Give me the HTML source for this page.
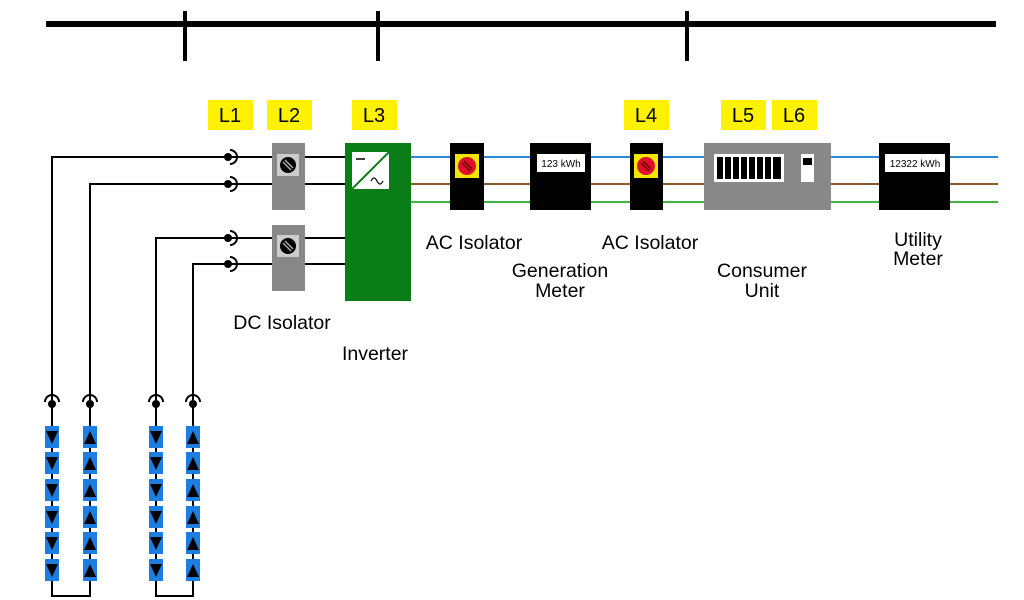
<!DOCTYPE html>
<html><head><meta charset="utf-8"><style>
html,body{margin:0;padding:0;background:#fff;width:1024px;height:600px;overflow:hidden}
text{font-family:"Liberation Sans",Arial,sans-serif}
</style></head><body>
<svg width="1024" height="600" viewBox="0 0 1024 600" xmlns="http://www.w3.org/2000/svg">
<defs>
<g id="sock"><path d="M2,-7 A7,7 0 0 1 2,7" fill="none" stroke="#000" stroke-width="2"/><circle r="4" fill="#000"/></g>
<g id="pd"><rect x="-7" y="-11" width="14" height="22" fill="#1e7de0"/><path d="M-6,-6 L6,-6 L0,7 Z" fill="#000"/></g>
<g id="pu"><rect x="-7" y="-11" width="14" height="22" fill="#1e7de0"/><path d="M-6,7 L6,7 L0,-6 Z" fill="#000"/></g>
<g id="dcsw"><rect x="-11" y="-11" width="22" height="22" fill="#ccc"/><circle r="8" fill="#000"/><path d="M-5,-3 L3,5 M-3,-5 L5,3" stroke="#aaa" stroke-width="1.5"/></g>
<g id="acsw"><rect x="-12" y="-12" width="24" height="24" fill="#f5e600"/><circle r="9" fill="#e0102a"/><path d="M-5,-3 L3,5 M-3,-5 L5,3" stroke="#600" stroke-width="1.5"/></g>
</defs>
<rect x="46" y="21" width="950" height="6" fill="#000"/>
<rect x="183" y="11" width="4" height="50" fill="#000"/>
<rect x="376" y="11" width="4" height="50" fill="#000"/>
<rect x="685" y="11" width="4" height="50" fill="#000"/>
<g fill="#fff200"><rect x="208" y="100" width="45" height="30"/><rect x="267" y="100" width="45" height="30"/><rect x="352" y="100" width="45" height="30"/><rect x="624" y="100" width="45" height="30"/><rect x="721" y="100" width="45" height="30"/><rect x="772" y="100" width="45" height="30"/></g>
<g font-size="20" text-anchor="middle" fill="#000"><text x="230" y="122">L1</text><text x="289" y="122">L2</text><text x="374" y="122">L3</text><text x="646" y="122">L4</text><text x="743" y="122">L5</text><text x="794" y="122">L6</text></g>
<line x1="411" y1="157" x2="998" y2="157" stroke="#2a8ad8" stroke-width="2"/>
<line x1="411" y1="184" x2="998" y2="184" stroke="#8a5a2a" stroke-width="2"/>
<line x1="411" y1="202" x2="998" y2="202" stroke="#3cb840" stroke-width="2"/>
<g fill="none" stroke="#000" stroke-width="2">
<path d="M52,400 V157 H345"/><path d="M90,400 V184 H345"/>
<path d="M156,400 V238 H345"/><path d="M193,400 V264 H345"/>
<path d="M52,405 V596 H90 V405"/><path d="M156,405 V596 H193 V405"/>
</g>
<use href="#sock" x="228" y="157"/><use href="#sock" x="228" y="184"/>
<use href="#sock" x="228" y="238"/><use href="#sock" x="228" y="264"/>
<g transform="translate(52,404) rotate(-90)"><use href="#sock"/></g>
<g transform="translate(90,404) rotate(-90)"><use href="#sock"/></g>
<g transform="translate(156,404) rotate(-90)"><use href="#sock"/></g>
<g transform="translate(193,404) rotate(-90)"><use href="#sock"/></g>
<g>
<use href="#pd" x="52" y="437"/><use href="#pd" x="52" y="463"/><use href="#pd" x="52" y="490"/><use href="#pd" x="52" y="517"/><use href="#pd" x="52" y="543"/><use href="#pd" x="52" y="570"/>
<use href="#pu" x="90" y="437"/><use href="#pu" x="90" y="463"/><use href="#pu" x="90" y="490"/><use href="#pu" x="90" y="517"/><use href="#pu" x="90" y="543"/><use href="#pu" x="90" y="570"/>
<use href="#pd" x="156" y="437"/><use href="#pd" x="156" y="463"/><use href="#pd" x="156" y="490"/><use href="#pd" x="156" y="517"/><use href="#pd" x="156" y="543"/><use href="#pd" x="156" y="570"/>
<use href="#pu" x="193" y="437"/><use href="#pu" x="193" y="463"/><use href="#pu" x="193" y="490"/><use href="#pu" x="193" y="517"/><use href="#pu" x="193" y="543"/><use href="#pu" x="193" y="570"/>
</g>
<rect x="272" y="143" width="33" height="67" fill="#888"/><use href="#dcsw" x="288" y="165"/>
<rect x="272" y="225" width="33" height="66" fill="#888"/><use href="#dcsw" x="288" y="246"/>
<rect x="345" y="143" width="66" height="158" fill="#0a7d18"/>
<rect x="352" y="152" width="37" height="37" fill="#fff"/>
<line x1="352" y1="189" x2="389" y2="152" stroke="#0a7d18" stroke-width="2"/>
<line x1="356" y1="159" x2="365" y2="159" stroke="#000" stroke-width="1.5"/>
<path d="M371,181 q3,-6 6,0 t6,0" fill="none" stroke="#000" stroke-width="1.2"/>
<rect x="450" y="143" width="34" height="67" fill="#000"/><use href="#acsw" x="467" y="166"/>
<rect x="530" y="143" width="61" height="67" fill="#000"/><rect x="537" y="154" width="48" height="18" fill="#fff"/>
<text x="561" y="167" font-size="10" text-anchor="middle">123 kWh</text>
<rect x="630" y="143" width="33" height="67" fill="#000"/><use href="#acsw" x="646" y="166"/>
<rect x="704" y="143" width="127" height="67" fill="#888"/>
<rect x="714" y="154" width="70" height="28" fill="#fff"/>
<g fill="#000"><rect x="717" y="157" width="6" height="22"/><rect x="725" y="157" width="6" height="22"/><rect x="733" y="157" width="6" height="22"/><rect x="741" y="157" width="6" height="22"/><rect x="749" y="157" width="6" height="22"/><rect x="757" y="157" width="6" height="22"/><rect x="765" y="157" width="6" height="22"/><rect x="773" y="157" width="8" height="22"/></g>
<rect x="801" y="154" width="13" height="28" fill="#fff"/><rect x="803" y="158" width="9" height="7" fill="#000"/>
<rect x="879" y="143" width="71" height="67" fill="#000"/><rect x="885" y="154" width="60" height="18" fill="#fff"/>
<text x="915" y="167" font-size="10" text-anchor="middle">12322 kWh</text>
<g font-size="19.5" text-anchor="middle" fill="#000">
<text x="282" y="329">DC Isolator</text>
<text x="375" y="360">Inverter</text>
<text x="474" y="249">AC Isolator</text>
<text x="650" y="249">AC Isolator</text>
<text x="560" y="277">Generation</text><text x="560" y="297">Meter</text>
<text x="762" y="277">Consumer</text><text x="762" y="297">Unit</text>
<text x="918" y="246">Utility</text><text x="918" y="265">Meter</text>
</g>
</svg>
</body></html>
